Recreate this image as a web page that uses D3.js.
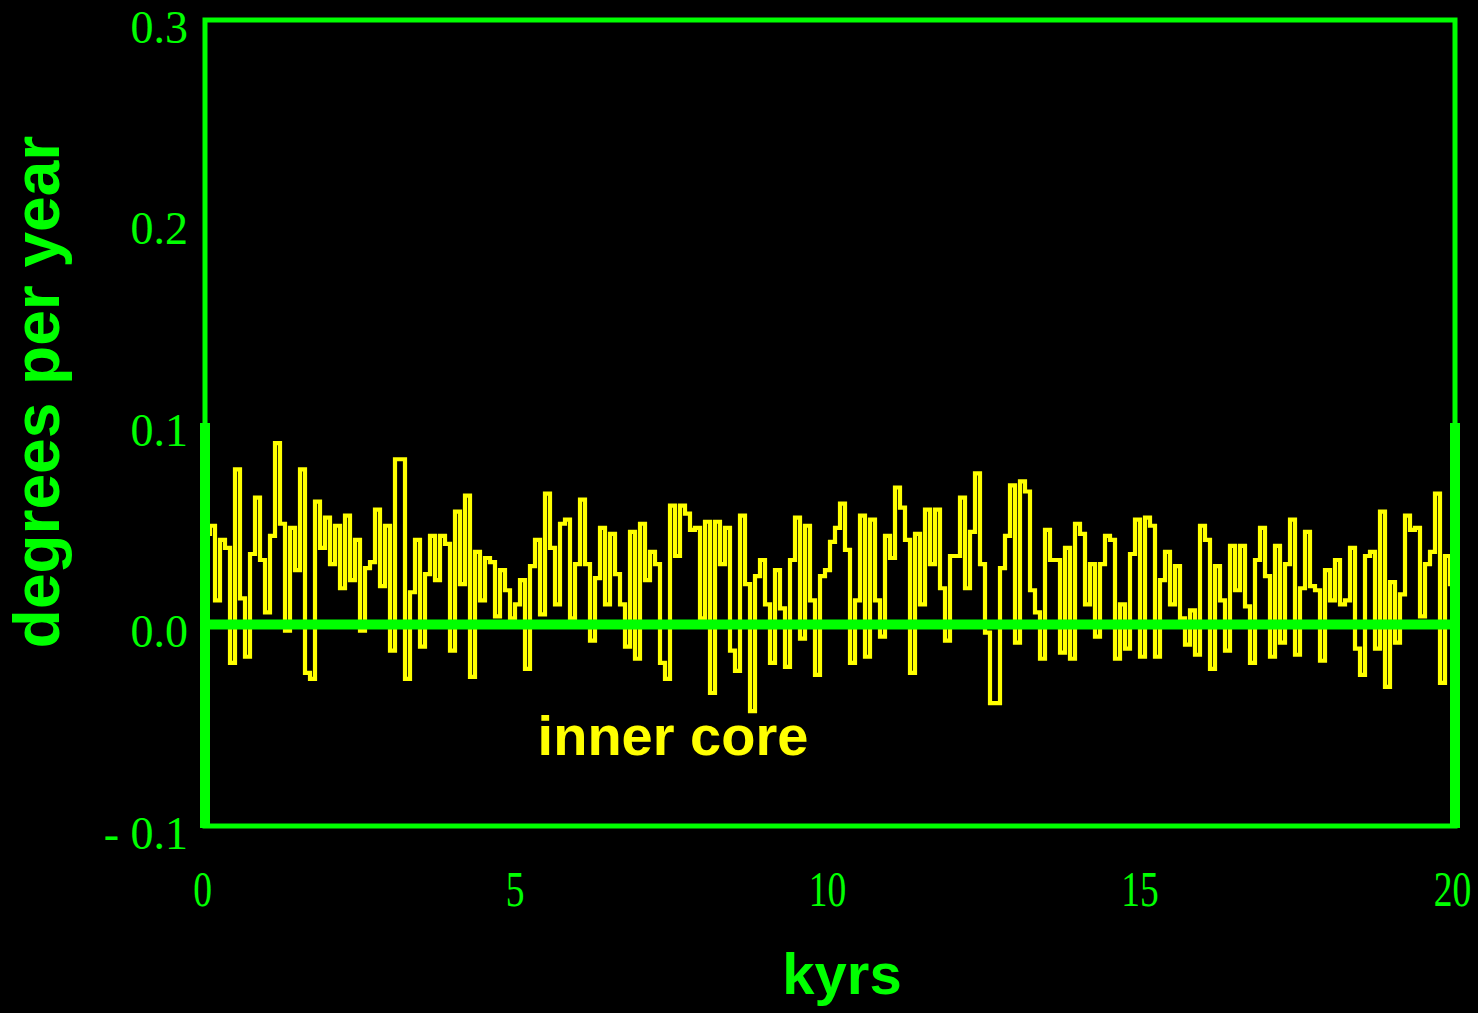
<!DOCTYPE html>
<html>
<head>
<meta charset="utf-8">
<script src="https://cdn.jsdelivr.net/npm/d3@7"></script>
<style>
  html, body { margin: 0; padding: 0; background: #000; }
  svg { display: block; }
</style>
</head>
<body>
<svg id="chart" width="1478" height="1013"></svg>
<script>
// Inner-core rotation rate (degrees per year), one value every 80 years, in 2-kyr blocks
const kyr00to02 = [0.045, 0.049, 0.012, 0.042, 0.038, -0.019, 0.077, 0.013, -0.016, 0.035, 0.063, 0.032, 0.006, 0.044, 0.090, 0.050, -0.003, 0.048, 0.027, 0.077, -0.024, -0.027, 0.061, 0.038, 0.053];
const kyr02to04 = [0.030, 0.049, 0.018, 0.054, 0.022, 0.042, -0.003, 0.028, 0.031, 0.057, 0.019, 0.049, -0.013, 0.082, 0.082, -0.027, 0.016, 0.042, -0.011, 0.025, 0.044, 0.022, 0.044, 0.040, -0.013];
const kyr04to06 = [0.056, 0.020, 0.064, -0.026, 0.036, 0.012, 0.033, 0.031, 0.004, 0.027, 0.017, 0.003, 0.010, 0.022, -0.022, 0.029, 0.042, 0.005, 0.065, 0.038, 0.010, 0.050, 0.052, 0.003, 0.030];
const kyr06to08 = [0.062, 0.030, -0.008, 0.023, 0.048, 0.010, 0.045, 0.025, 0.010, -0.011, 0.046, -0.017, 0.050, 0.022, 0.036, 0.030, -0.019, -0.027, 0.059, 0.034, 0.059, 0.055, 0.047, 0.048, 0.003];
const kyr08to10 = [0.051, -0.034, 0.051, 0.030, 0.048, -0.013, -0.023, 0.054, 0.020, -0.043, 0.024, 0.032, 0.010, -0.019, 0.027, 0.008, -0.021, 0.032, 0.053, -0.007, 0.049, 0.012, -0.025, 0.024, 0.027];
const kyr10to12 = [0.041, 0.048, 0.060, 0.037, -0.019, 0.012, 0.054, -0.016, 0.052, 0.012, -0.006, 0.044, 0.033, 0.068, 0.058, 0.042, -0.024, 0.045, 0.010, 0.057, 0.030, 0.057, 0.018, -0.008, 0.034];
const kyr12to14 = [0.034, 0.063, 0.018, 0.046, 0.075, 0.030, -0.004, -0.039, -0.039, 0.028, 0.044, 0.069, -0.009, 0.071, 0.066, 0.017, 0.006, -0.017, 0.047, 0.032, 0.032, -0.014, 0.038, -0.017, 0.050];
const kyr14to16 = [0.045, 0.010, 0.030, -0.006, 0.030, 0.044, 0.042, -0.017, 0.010, -0.012, 0.035, 0.052, -0.016, 0.053, 0.049, -0.016, 0.022, 0.036, 0.010, 0.029, 0.003, -0.010, 0.007, -0.015, 0.049];
const kyr16to18 = [0.042, -0.022, 0.029, 0.012, -0.013, 0.039, 0.017, 0.039, 0.009, -0.019, 0.032, 0.048, 0.024, -0.016, 0.039, -0.009, 0.030, 0.052, -0.015, 0.018, 0.046, 0.019, 0.017, -0.018, 0.027];
const kyr18to20 = [0.012, 0.032, 0.010, 0.012, 0.038, -0.012, -0.025, 0.034, 0.036, -0.012, 0.056, -0.031, 0.021, -0.009, 0.015, 0.054, 0.047, 0.048, 0.004, 0.030, 0.036, 0.065, -0.029, 0.034, 0.020];

const xTicks = [0, 5, 10, 15, 20];
const xTickLabels = ["0", "5", "10", "15", "20"];
const yTicks = [-0.1, 0.0, 0.1, 0.2, 0.3];
const yTickLabels = ["- 0.1", "0.0", "0.1", "0.2", "0.3"];

const GREEN = "#00ff00";
const YELLOW = "#ffff00";

const rates = [].concat(kyr00to02, kyr02to04, kyr04to06, kyr06to08, kyr08to10,
                        kyr10to12, kyr12to14, kyr14to16, kyr16to18, kyr18to20);
const stepKyr = 20 / rates.length;
const points = rates.map((v, i) => ({ t: i * stepKyr, v }));
points.push({ t: 20, v: rates[rates.length - 1] });

const svg = d3.select("#chart");
svg.append("rect").attr("width", 1478).attr("height", 1013).attr("fill", "#000");

const x = d3.scaleLinear().domain([0, 20]).range([205, 1455]);
const y = d3.scaleLinear().domain([-0.1, 0.3]).range([826, 20]);

// rate series as a stepped trace
const line = d3.line()
  .x(d => x(d.t))
  .y(d => y(d.v))
  .curve(d3.curveStepAfter);

svg.append("path")
  .datum(points)
  .attr("d", line)
  .attr("fill", "none")
  .attr("stroke", YELLOW)
  .attr("stroke-width", 4.2)
  .attr("stroke-linejoin", "miter");

// frame
svg.append("rect")
  .attr("x", x(0)).attr("y", y(0.3))
  .attr("width", x(20) - x(0)).attr("height", y(-0.1) - y(0.3))
  .attr("fill", "none")
  .attr("stroke", GREEN)
  .attr("stroke-width", 5);

// heavier side rails over the lower part of the frame
[0, 20].forEach(t => {
  svg.append("line")
    .attr("x1", x(t)).attr("x2", x(t))
    .attr("y1", y(0.1)).attr("y2", y(-0.1) + 2)
    .attr("stroke", GREEN)
    .attr("stroke-width", 10);
});

// zero line
svg.append("line")
  .attr("x1", x(0)).attr("x2", x(20))
  .attr("y1", y(0)).attr("y2", y(0))
  .attr("stroke", GREEN)
  .attr("stroke-width", 10);

// y axis labels
const yAxis = d3.axisLeft(y)
  .tickValues(yTicks)
  .tickSize(0)
  .tickPadding(0)
  .tickFormat((d, i) => yTickLabels[i]);

const gy = svg.append("g")
  .attr("transform", `translate(${x(0) - 17},0)`)
  .call(yAxis);
gy.select(".domain").remove();
gy.selectAll("text")
  .attr("fill", GREEN)
  .attr("font-family", "'Liberation Serif', 'DejaVu Serif', serif")
  .attr("font-size", 46)
  .attr("x", 0)
  .attr("dy", "0.4em")
  .attr("transform", "translate(0,4)");

// x axis labels (tall, narrow numerals)
const xAxis = d3.axisBottom(x)
  .tickValues(xTicks)
  .tickSize(0)
  .tickPadding(0)
  .tickFormat((d, i) => xTickLabels[i]);

const gx = svg.append("g")
  .attr("transform", `translate(0,${y(-0.1)})`)
  .call(xAxis);
gx.select(".domain").remove();
gx.selectAll("text")
  .attr("fill", GREEN)
  .attr("font-family", "'Liberation Serif', 'DejaVu Serif', serif")
  .attr("font-size", 50)
  .attr("dy", 0)
  .attr("y", 0)
  .attr("transform", "translate(-3,80) scale(0.75,1)");

// axis titles
svg.append("text")
  .attr("transform", `translate(59,392) rotate(-90)`)
  .attr("text-anchor", "middle")
  .attr("fill", GREEN)
  .attr("font-family", "'Liberation Sans', Arial, sans-serif")
  .attr("font-weight", "bold")
  .attr("font-size", 64)
  .text("degrees per year");

svg.append("text")
  .attr("x", 842).attr("y", 994)
  .attr("text-anchor", "middle")
  .attr("fill", GREEN)
  .attr("font-family", "'Liberation Sans', Arial, sans-serif")
  .attr("font-weight", "bold")
  .attr("font-size", 58)
  .text("kyrs");

// series label
svg.append("text")
  .attr("x", 673).attr("y", 755)
  .attr("text-anchor", "middle")
  .attr("fill", YELLOW)
  .attr("font-family", "'Liberation Sans', Arial, sans-serif")
  .attr("font-weight", "bold")
  .attr("font-size", 56)
  .text("inner core");
</script>
</body>
</html>
